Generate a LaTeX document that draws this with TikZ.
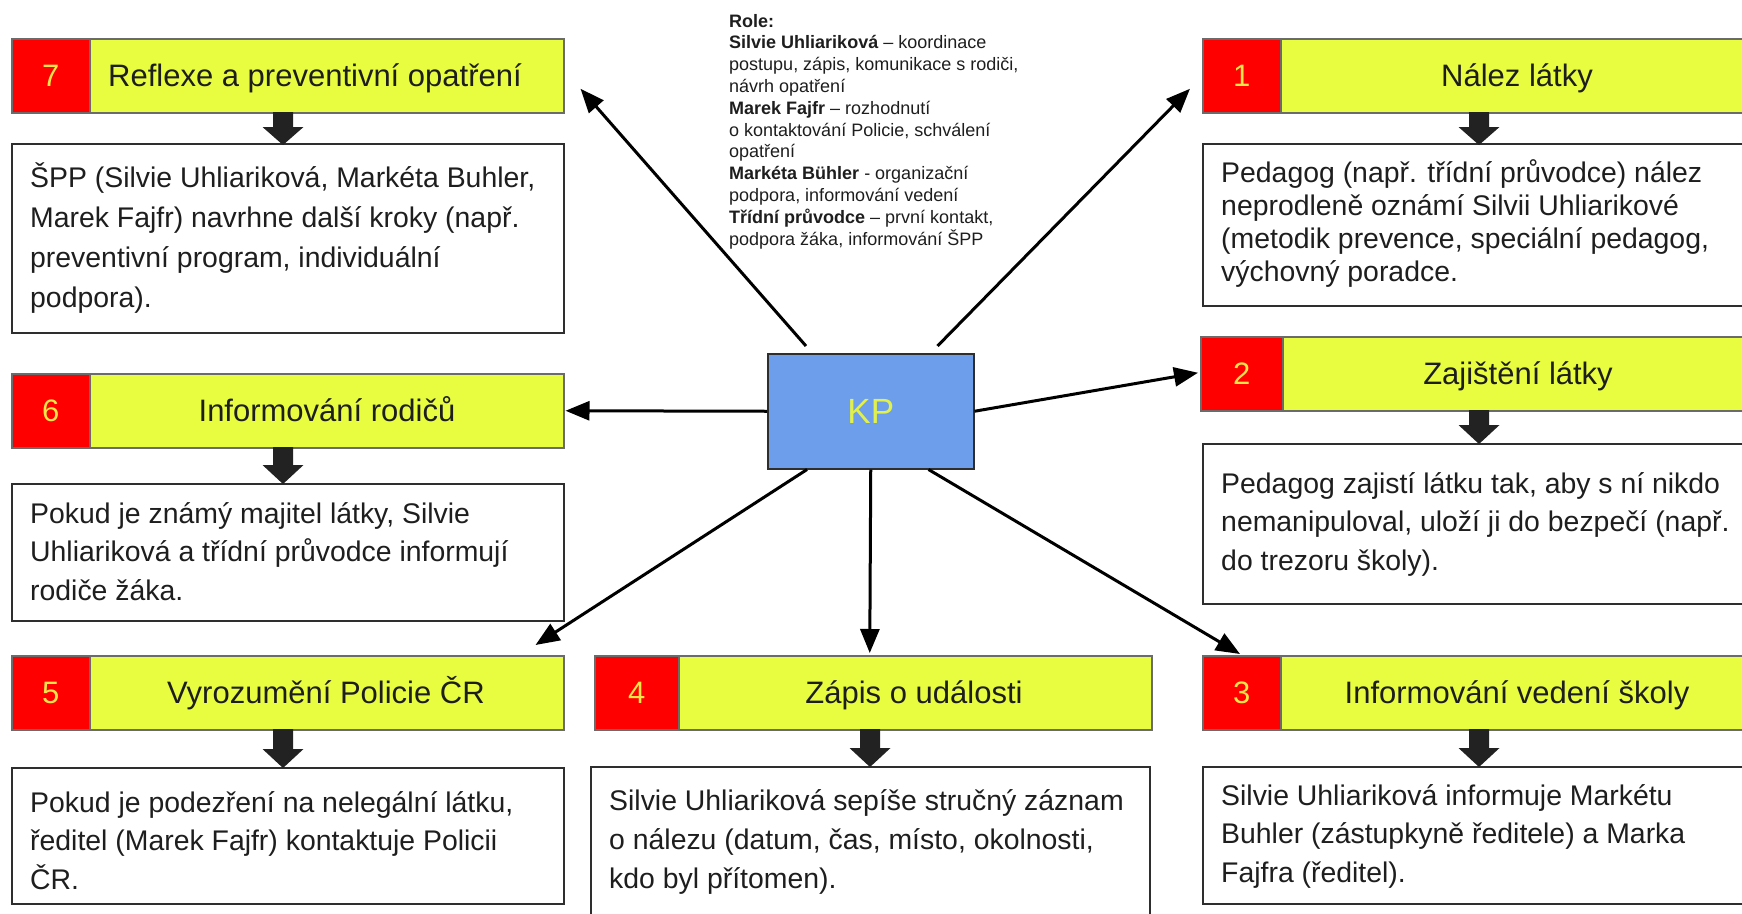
\documentclass[tikz,border=0pt]{standalone}
\usepackage{fontspec}
\setmainfont{Liberation Sans}
\usetikzlibrary{arrows.meta,calc}
\definecolor{hdrYellow}{HTML}{E8FD3F}
\definecolor{numRed}{HTML}{FF0000}
\definecolor{numYellow}{HTML}{F4E64A}
\definecolor{hdrBorder}{HTML}{6B6B6B}
\definecolor{descBorder}{HTML}{2E2E2E}
\definecolor{kpBlue}{HTML}{6D9EEB}
\definecolor{kpText}{HTML}{E2F04C}
\definecolor{txtDark}{HTML}{1E1E1E}
\definecolor{blkGray}{HTML}{222222}
\newcommand{\desclines}[2]{\parbox[t]{560pt}{\fontsize{28.4}{#1}\selectfont\raggedright #2}}
\begin{document}
\begin{tikzpicture}[x=1pt,y=-1pt,
  hdr/.style={draw=hdrBorder, line width=1.5pt, fill=hdrYellow, anchor=north west, inner sep=0pt, minimum height=74pt},
  numbox/.style={draw=hdrBorder, line width=1.5pt, fill=numRed, anchor=north west, inner sep=0pt, minimum height=74pt, text=numYellow, font=\fontsize{31}{36}\selectfont},
  htxt/.style={anchor=base, inner sep=0pt, text=txtDark, font=\fontsize{31}{36}\selectfont},
  descbox/.style={draw=descBorder, line width=2pt, fill=white, anchor=north west, inner sep=0pt},
  dtxt/.style={anchor=base west, inner sep=0pt, text=txtDark},
  conn/.style={draw=black, line width=3pt, -{Triangle[length=24pt,width=19pt]}},
  blk/.style={fill=blkGray},
  kpbox/.style={draw=descBorder, line width=1.5pt, fill=kpBlue, anchor=north west, inner sep=0pt, minimum width=206pt, minimum height=115pt, text=kpText, font=\fontsize{35}{40}\selectfont}
]
\useasboundingbox (0,0) rectangle (1742,913);
\fill[white] (0,0) rectangle (1742,913);
\begin{scope}
\clip (0,0) rectangle (1742,913);

% ---------- roles text ----------
\node[anchor=base west, inner sep=0pt, text=txtDark] (roles) at (729,27)
 {\parbox[t]{320pt}{\fontsize{18}{21.8}\selectfont\raggedright
 \textbf{Role:}\\
 \textbf{Silvie Uhliariková} – koordinace\\
 postupu, zápis, komunikace s rodiči,\\
 návrh opatření\\
 \textbf{Marek Fajfr} – rozhodnutí\\
 o kontaktování Policie, schválení\\
 opatření\\
 \textbf{Markéta Bühler} - organizační\\
 podpora, informování vedení\\
 \textbf{Třídní průvodce} – první kontakt,\\
 podpora žáka, informování ŠPP}};

% ---------- KP ----------
\node[kpbox] (kp) at (767,353) {KP};

% ---------- box 7 ----------
\node[hdr, minimum width=552pt] (h7) at (11,38) {};
\node[numbox, minimum width=78pt] (n7) at (11,38) {7};
\node[htxt] (l7) at (315,86) {Reflexe a preventivní opatření};
\node[descbox, minimum width=552pt, minimum height=189pt] (d7) at (11,143) {};
\node[dtxt] (t7) at (30,187) {\desclines{40}{ŠPP (Silvie Uhliariková, Markéta Buhler,\\Marek Fajfr) navrhne další kroky (např.\\preventivní program, individuální\\podpora).}};

% ---------- box 6 ----------
\node[hdr, minimum width=552pt] (h6) at (11,373) {};
\node[numbox, minimum width=78pt] (n6) at (11,373) {6};
\node[htxt] (l6) at (327,421) {Informování rodičů};
\node[descbox, minimum width=552pt, minimum height=137pt] (d6) at (11,483) {};
\node[dtxt] (t6) at (30,523) {\desclines{38.5}{Pokud je známý majitel látky, Silvie\\Uhliariková a třídní průvodce informují\\rodiče žáka.}};

% ---------- box 5 ----------
\node[hdr, minimum width=552pt] (h5) at (11,655) {};
\node[numbox, minimum width=78pt] (n5) at (11,655) {5};
\node[htxt] (l5) at (326,703) {Vyrozumění Policie ČR};
\node[descbox, minimum width=552pt, minimum height=136pt] (d5) at (11,767) {};
\node[dtxt] (t5) at (30,812) {\desclines{38.5}{Pokud je podezření na nelegální látku,\\ředitel (Marek Fajfr) kontaktuje Policii\\ČR.}};

% ---------- box 4 ----------
\node[hdr, minimum width=557pt] (h4) at (594,655) {};
\node[numbox, minimum width=84pt] (n4) at (594,655) {4};
\node[htxt] (l4) at (914,703) {Zápis o události};
\node[descbox, minimum width=559pt, minimum height=170pt] (d4) at (590,766) {};
\node[dtxt] (t4) at (609,810) {\desclines{39}{Silvie Uhliariková sepíše stručný záznam\\o nálezu (datum, čas, místo, okolnosti,\\kdo byl přítomen).}};

% ---------- box 3 ----------
\node[hdr, minimum width=552pt] (h3) at (1202,655) {};
\node[numbox, minimum width=78pt] (n3) at (1202,655) {3};
\node[htxt] (l3) at (1517,703) {Informování vedení školy};
\node[descbox, minimum width=552pt, minimum height=137pt] (d3) at (1202,766) {};
\node[dtxt] (t3) at (1221,805) {\desclines{38.5}{Silvie Uhliariková informuje Markétu\\Buhler (zástupkyně ředitele) a Marka\\Fajfra (ředitel).}};

% ---------- box 2 ----------
\node[hdr, minimum width=554pt] (h2) at (1200,336) {};
\node[numbox, minimum width=82pt] (n2) at (1200,336) {2};
\node[htxt] (l2) at (1518,384) {Zajištění látky};
\node[descbox, minimum width=552pt, minimum height=160pt] (d2) at (1202,443) {};
\node[dtxt] (t2) at (1221,493) {\desclines{38.5}{Pedagog zajistí látku tak, aby s ní nikdo\\nemanipuloval, uloží ji do bezpečí (např.\\do trezoru školy).}};

% ---------- box 1 ----------
\node[hdr, minimum width=552pt] (h1) at (1202,38) {};
\node[numbox, minimum width=78pt] (n1) at (1202,38) {1};
\node[htxt] (l1) at (1517,86) {Nález látky};
\node[descbox, minimum width=552pt, minimum height=162pt] (d1) at (1202,143) {};
\node[dtxt] (t1) at (1221,182) {\desclines{33.3}{Pedagog (např. třídní průvodce) nález\\neprodleně oznámí Silvii Uhliarikové\\(metodik prevence, speciální pedagog,\\výchovný poradce.}};

% ---------- block arrows (header -> description) ----------
\fill[blk] (273,112) -- (273,127) -- (262.5,127) -- (283,145) -- (303.5,127) -- (293,127) -- (293,112) -- cycle;
\fill[blk] (273,447) -- (273,465) -- (262.5,465) -- (283,484) -- (303.5,465) -- (293,465) -- (293,447) -- cycle;
\fill[blk] (273,729) -- (273,749) -- (262.5,749) -- (283,768) -- (303.5,749) -- (293,749) -- (293,729) -- cycle;
\fill[blk] (860,729) -- (860,748) -- (849.5,748) -- (870,767) -- (890.5,748) -- (880,748) -- (880,729) -- cycle;
\fill[blk] (1469,729) -- (1469,748) -- (1458.5,748) -- (1479,767) -- (1499.5,748) -- (1489,748) -- (1489,729) -- cycle;
\fill[blk] (1469,410) -- (1469,425) -- (1458.5,425) -- (1479,444) -- (1499.5,425) -- (1489,425) -- (1489,410) -- cycle;
\fill[blk] (1469,112) -- (1469,127) -- (1458.5,127) -- (1479,145) -- (1499.5,127) -- (1489,127) -- (1489,112) -- cycle;

% ---------- connectors from KP ----------
\draw[conn] ([xshift=39pt,yshift=7pt]kp.north west) -- ([xshift=16pt,yshift=-13pt]h7.east);
\draw[conn] ([xshift=-37pt,yshift=7pt]kp.north east) -- ([xshift=-12pt,yshift=-13pt]h1.west);
\draw[conn] (kp.east) -- ([xshift=-2pt,yshift=1pt]h2.west);
\draw[conn] (kp.west) -- ([xshift=1pt]h6.east);
\draw[conn] ([xshift=40pt]kp.south west) -- ([xshift=-29pt,yshift=10pt]h5.north east);
\draw[conn] (kp.south) -- ([xshift=-3.5pt,yshift=2pt]h4.north);
\draw[conn] ([xshift=-46pt]kp.south east) -- ([xshift=38pt,yshift=1pt]h3.north west);
\end{scope}
\end{tikzpicture}
\end{document}
